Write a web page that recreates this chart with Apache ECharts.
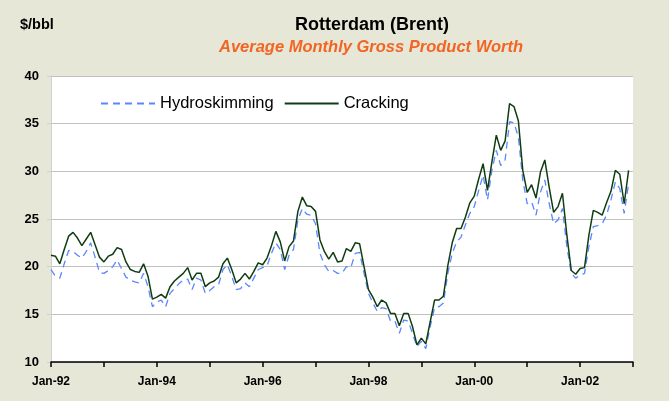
<!DOCTYPE html>
<html>
<head>
<meta charset="utf-8">
<script src="https://cdn.jsdelivr.net/npm/echarts@6/dist/echarts.min.js"></script>
<style>
  html, body { margin: 0; padding: 0; background: #e7e7d8; }
  #chart { width: 669px; height: 401px; }
</style>
</head>
<body>
<div id="chart"></div>
<script>
// monthly Jan-92 .. Jan-03 (last month has no value)
const yearLabels = ["92", "93", "94", "95", "96", "97", "98", "99", "00", "01", "02", "03"];
const monthNames = ["Jan", "Feb", "Mar", "Apr", "May", "Jun", "Jul", "Aug", "Sep", "Oct", "Nov", "Dec"];

// $/bbl
const hydroskimming = [
  19.7, 19.0, 18.8, 20.3, 21.7, 21.6, 21.2, 20.9, 21.6, 22.5, 21.0, 19.4,
  19.3, 19.6, 20.0, 20.7, 19.8, 18.9, 18.6, 18.4, 18.3, 19.3, 17.9, 15.8,
  16.3, 16.5, 15.8, 17.2, 17.7, 18.2, 18.6, 18.7, 17.6, 18.8, 18.6, 17.2,
  17.5, 17.9, 18.1, 19.7, 20.2, 19.0, 17.6, 17.7, 18.3, 17.9, 18.8, 19.7,
  19.9, 20.1, 21.4, 22.5, 21.8, 19.7, 21.2, 21.8, 24.9, 26.1, 25.5, 25.4,
  24.5, 21.4, 20.2, 19.5, 19.6, 19.3, 19.3, 20.0, 19.9, 21.4, 21.5, 19.3,
  17.2, 16.2, 15.3, 15.7, 15.6, 14.3, 14.3, 13.0, 14.4, 14.3, 13.0, 11.6,
  12.2, 11.4, 13.7, 15.7, 15.8, 16.2, 19.3, 21.4, 22.6, 23.1, 24.4, 25.6,
  26.3, 28.0, 29.6, 27.0, 30.1, 32.2, 30.6, 31.2, 35.2, 35.1, 33.6, 29.1,
  26.6, 26.8, 25.4, 27.8, 29.1, 26.6, 24.5, 24.9, 26.1, 22.1, 19.3, 18.8,
  19.1, 19.3, 22.1, 24.2, 24.3, 24.5, 25.4, 27.0, 28.9, 28.2, 25.6, 28.7
];
const cracking = [
  21.2, 21.1, 20.3, 21.8, 23.2, 23.6, 23.0, 22.2, 22.9, 23.6, 22.3, 21.0,
  20.5, 21.1, 21.3, 22.0, 21.8, 20.5, 19.7, 19.5, 19.4, 20.3, 19.0, 16.6,
  16.8, 17.1, 16.7, 17.9, 18.5, 18.9, 19.3, 19.9, 18.6, 19.3, 19.3, 17.9,
  18.3, 18.5, 18.9, 20.3, 20.9, 19.7, 18.3, 18.7, 19.3, 18.7, 19.5, 20.4,
  20.2, 20.9, 22.2, 23.7, 22.6, 20.6, 22.1, 22.7, 25.8, 27.3, 26.4, 26.3,
  25.8, 22.8, 21.6, 20.8, 21.5, 20.5, 20.6, 21.9, 21.6, 22.5, 22.4, 20.0,
  17.6, 16.8, 15.8, 16.5, 16.2, 15.1, 15.1, 13.8, 15.1, 15.1, 13.7, 11.8,
  12.5, 11.9, 14.2, 16.5, 16.5, 16.9, 20.1, 22.5, 24.0, 24.0, 25.2, 26.7,
  27.4, 29.2, 30.8, 28.0, 31.0, 33.8, 32.2, 33.2, 37.1, 36.8, 35.3, 30.1,
  27.8, 28.6, 27.2, 29.9, 31.2, 28.3, 25.7, 26.3, 27.7, 23.3, 19.6, 19.2,
  19.8, 19.9, 23.3, 25.9, 25.7, 25.4, 26.7, 27.9, 30.1, 29.7, 26.6, 30.1
];

const months = [];
yearLabels.forEach((yy, i) => {
  monthNames.forEach((m) => {
    if (i < yearLabels.length - 1 || m === "Jan") months.push(m + "-" + yy);
  });
});

const chart = echarts.init(document.getElementById("chart"));

const option = {
  backgroundColor: "#e7e7d8",
  animation: false,
  textStyle: { fontFamily: "Liberation Sans, Arial, sans-serif" },
  title: [
    {
      text: "Rotterdam (Brent)",
      left: 367, top: 11, textAlign: "center",
      textStyle: { fontSize: 18, fontWeight: "bold", color: "#000" }
    },
    {
      text: "Average Monthly Gross Product Worth",
      left: 366, top: 34, textAlign: "center",
      textStyle: { fontSize: 16.5, fontWeight: "bold", fontStyle: "italic", color: "#f26522" }
    },
    {
      text: "$/bbl",
      left: 15, top: 12,
      textStyle: { fontSize: 14.5, fontWeight: "bold", color: "#000" }
    }
  ],
  legend: {
    left: 95, top: 90,
    itemWidth: 54, itemHeight: 14, itemGap: 10,
    itemStyle: { opacity: 0 },
    textStyle: { fontSize: 16.5, color: "#000", padding: [0, 0, 0, 0] },
    data: ["Hydroskimming", "Cracking"]
  },
  grid: { left: 51, right: 36, top: 76, bottom: 39 },
  xAxis: {
    type: "category",
    data: months,
    boundaryGap: false,
    axisLine: { lineStyle: { color: "#000", width: 1.5 } },
    axisTick: {
      interval: (i) => i % 12 === 0,
      length: 5,
      lineStyle: { color: "#000", width: 1.5 }
    },
    axisLabel: {
      interval: (i) => i % 24 === 0,
      margin: 14,
      fontSize: 12, fontWeight: "bold", color: "#000"
    },
    splitLine: { show: false }
  },
  yAxis: {
    type: "value",
    min: 10, max: 40, interval: 5,
    axisLine: { show: true, lineStyle: { color: "#d0d0d0", width: 1 } },
    axisTick: { show: true, length: 4, lineStyle: { color: "#d0d0d0" } },
    axisLabel: { margin: 12, fontSize: 13, fontWeight: "bold", color: "#000" },
    splitLine: { lineStyle: { color: "#c0c0c0", width: 1 } }
  },
  series: [
    {
      name: "Hydroskimming",
      type: "line",
      data: hydroskimming,
      symbol: "none",
      lineStyle: { color: "#5a87ff", width: 1.3, type: [7, 5] },
      itemStyle: { color: "#5a87ff" },
      z: 2
    },
    {
      name: "Cracking",
      type: "line",
      data: cracking,
      symbol: "none",
      lineStyle: { color: "#0e3d12", width: 1.5 },
      itemStyle: { color: "#0e3d12" },
      z: 3
    }
  ],
  graphic: [
    {
      type: "rect",
      shape: { x: 51, y: 76, width: 582, height: 286 },
      style: { fill: "#fff" },
      z: -1,
      silent: true
    }
  ]
};

chart.setOption(option);
</script>
</body>
</html>
